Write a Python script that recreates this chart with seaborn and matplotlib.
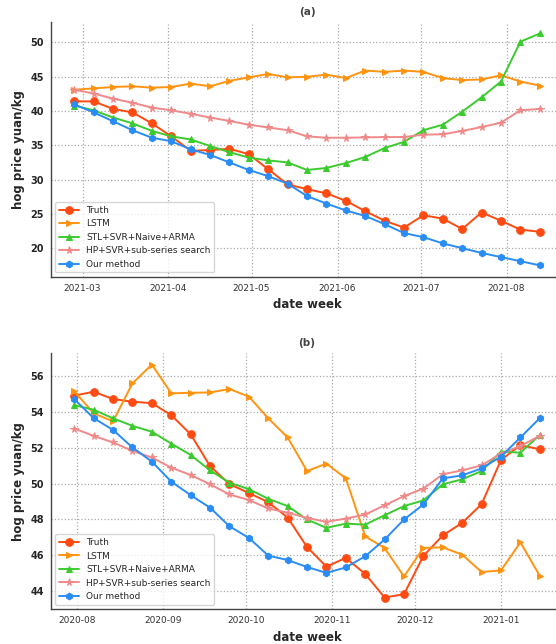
import numpy as np
import pandas as pd
import seaborn as sns
import matplotlib
matplotlib.use('Agg')
import matplotlib.pyplot as plt
import matplotlib.dates as mdates

# (a) weekly values, 2021-02-26 .. 2021-08-13
dates_a = pd.date_range('2021-02-26', periods=25, freq='7D')
truth_a = [41.4, 41.4, 40.3, 39.8, 38.2, 36.3, 34.2, 34.3, 34.5, 33.7, 31.5, 29.3, 28.6,
           28.0, 26.9, 25.4, 24.0, 23.0, 24.8, 24.3, 22.8, 25.2, 24.0, 22.7, 22.4]
lstm_a = [43.1, 43.3, 43.5, 43.6, 43.4, 43.5, 44.0, 43.6, 44.4, 44.9, 45.4, 44.9, 45.0,
          45.3, 44.8, 45.9, 45.7, 45.9, 45.7, 44.8, 44.5, 44.6, 45.2, 44.3, 43.7]
stl_a = [40.8, 40.1, 39.05, 38.2, 37.1, 36.3, 35.85, 34.9, 34.0, 33.2, 32.8, 32.5, 31.4,
         31.7, 32.4, 33.3, 34.6, 35.5, 37.2, 38.0, 39.9, 42.0, 44.3, 50.1, 51.3]
hp_a = [43.1, 42.55, 41.8, 41.2, 40.5, 40.1, 39.6, 39.05, 38.55, 38.0, 37.6, 37.2, 36.3,
        36.1, 36.1, 36.15, 36.2, 36.2, 36.55, 36.6, 37.1, 37.65, 38.3, 40.1, 40.3]
ours_a = [40.95, 39.8, 38.5, 37.2, 36.1, 35.6, 34.4, 33.6, 32.5, 31.4, 30.5, 29.4, 27.6,
          26.5, 25.5, 24.7, 23.5, 22.2, 21.6, 20.7, 20.0, 19.3, 18.7, 18.1, 17.5]

# (b) weekly values, 2020-07-31 .. 2021-01-15
dates_b = pd.date_range('2020-07-31', periods=25, freq='7D')
truth_b = [54.92, 55.14, 54.73, 54.58, 54.5, 53.83, 52.76, 50.98, 49.97, 49.47, 48.96, 48.1, 46.45,
           45.35, 45.84, 44.94, 43.62, 43.81, 45.95, 47.1, 47.8, 48.85, 51.32, 52.15, 51.92]
lstm_b = [55.16, 53.93, 53.48, 55.61, 56.66, 55.05, 55.08, 55.1, 55.29, 54.87, 53.65, 52.58, 50.7,
          51.12, 50.29, 47.05, 46.39, 44.8, 46.4, 46.43, 46.02, 45.05, 45.14, 46.71, 44.84]
stl_b = [54.39, 54.13, 53.65, 53.23, 52.9, 52.24, 51.6, 50.74, 50.05, 49.69, 49.15, 48.74, 47.99,
         47.52, 47.76, 47.7, 48.23, 48.74, 49.06, 49.96, 50.24, 50.7, 51.79, 51.73, 52.72]
hp_b = [53.08, 52.67, 52.3, 51.83, 51.46, 50.89, 50.48, 49.96, 49.39, 49.08, 48.61, 48.37, 48.08,
        47.86, 48.04, 48.27, 48.78, 49.3, 49.72, 50.52, 50.74, 51.02, 51.68, 52.1, 52.67]
ours_b = [54.73, 53.66, 53.0, 52.02, 51.23, 50.11, 49.35, 48.65, 47.61, 46.96, 45.97, 45.72, 45.33,
          45.0, 45.31, 45.93, 46.87, 47.99, 48.83, 50.29, 50.46, 50.85, 51.51, 52.58, 53.66]

names = ['Truth', 'LSTM', 'STL+SVR+Naive+ARMA', 'HP+SVR+sub-series search', 'Our method']
colors = ['#FF4A12', '#FF9412', '#3CCB2E', '#F08A8A', '#2A8DF5']
markers = ['o', '>', '^', '*', 'h']
msizes = [5.5, 5, 5, 5.5, 4.8]

sns.set_style('white')
plt.rcParams['font.family'] = ['DejaVu Sans']

fig = plt.figure(figsize=(5.56, 6.44), dpi=100)
ax1 = fig.add_axes([0.0917, 0.570, 0.921, 0.396])
ax2 = fig.add_axes([0.0917, 0.054, 0.921, 0.398])


def panel(ax, dates, series, title, yticks):
    for vals, name, c, m, ms in zip(series, names, colors, markers, msizes):
        sns.lineplot(x=dates, y=vals, ax=ax, color=c, marker=m, markersize=ms,
                     markeredgecolor=c, linewidth=1.4, label=name)
    ax.xaxis.set_major_locator(mdates.MonthLocator())
    ax.xaxis.set_major_formatter(mdates.DateFormatter('%Y-%m'))
    ax.set_yticks(yticks)
    ax.grid(True, linestyle=':', color='#aaaaaa', linewidth=0.9)
    for s in ['top', 'right']:
        ax.spines[s].set_visible(False)
    for s in ['left', 'bottom']:
        ax.spines[s].set_color('#444444')
        ax.spines[s].set_linewidth(1.0)
    ax.tick_params(length=0, pad=5)
    for t in ax.get_xticklabels():
        t.set_fontsize(6.5)
        t.set_color('#333333')
    for t in ax.get_yticklabels():
        t.set_fontsize(7)
        t.set_fontweight('bold')
    ax.set_xlabel('date week', fontsize=8.5, fontweight='bold', labelpad=4)
    ax.set_ylabel('hog price yuan/kg', fontsize=8.5, fontweight='bold', labelpad=4)
    ax.legend(loc='lower left', fontsize=6.5, framealpha=0.8, handlelength=2.2)
    ax.set_title(title, fontsize=7.5, fontweight='bold', color='#444444', pad=5)


panel(ax1, dates_a, [truth_a, lstm_a, stl_a, hp_a, ours_a], '(a)', [20, 25, 30, 35, 40, 45, 50])
panel(ax2, dates_b, [truth_b, lstm_b, stl_b, hp_b, ours_b], '(b)', [44, 46, 48, 50, 52, 54, 56])

fig.savefig('out.png', dpi=100)
